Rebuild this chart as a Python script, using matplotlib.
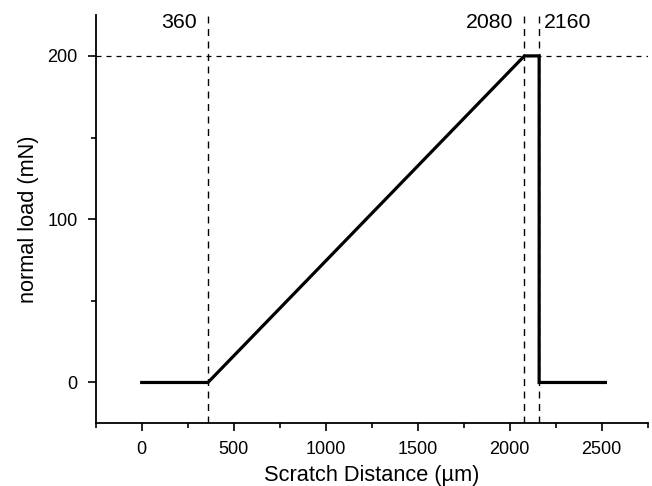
import matplotlib
matplotlib.use("Agg")
import matplotlib.pyplot as plt
from matplotlib.ticker import MultipleLocator

plt.rcParams['font.family'] = ['Liberation Sans', 'DejaVu Sans']

distance = [0, 360, 2080, 2160, 2160, 2520]
load = [0, 0, 200, 200, 0, 0]
vlines = [360, 2080, 2160]
vlabels = ["360", "2080", "2160"]
hline = 200

fig = plt.figure(figsize=(6.52, 4.86), dpi=100)
ax = fig.add_axes([0.1468, 0.129, 0.9934 - 0.1468, 0.969 - 0.129])

ax.plot(distance, load, color='black', lw=2.3, solid_joinstyle='miter')
for v in vlines:
    ax.axvline(v, color='black', lw=1.0, ls=(0, (5, 4)))
ax.axhline(hline, color='black', lw=0.9, ls=(0, (4, 4)))

ax.set_xlim(-250, 2750)
ax.set_ylim(-25, 225)
ax.xaxis.set_major_locator(MultipleLocator(500))
ax.xaxis.set_minor_locator(MultipleLocator(250))
ax.yaxis.set_major_locator(MultipleLocator(100))
ax.yaxis.set_minor_locator(MultipleLocator(50))
for s in ['top', 'right']:
    ax.spines[s].set_visible(False)
for s in ['left', 'bottom']:
    ax.spines[s].set_linewidth(1.3)
ax.tick_params(which='major', length=6, width=1.2, labelsize=13, direction='out', pad=7)
ax.tick_params(which='minor', length=3.5, width=1.2, direction='out')

ax.set_xlabel("Scratch Distance (µm)", fontsize=15.7, labelpad=5)
ax.set_ylabel("normal load (mN)", fontsize=15.7, labelpad=6)

ytext = 220.5
ax.text(vlines[0] - 60, ytext, vlabels[0], ha='right', va='center', fontsize=15.3)
ax.text(vlines[1] - 60, ytext, vlabels[1], ha='right', va='center', fontsize=15.3)
ax.text(vlines[2] + 28, ytext, vlabels[2], ha='left', va='center', fontsize=15.3)

fig.savefig("out.png", dpi=100)
